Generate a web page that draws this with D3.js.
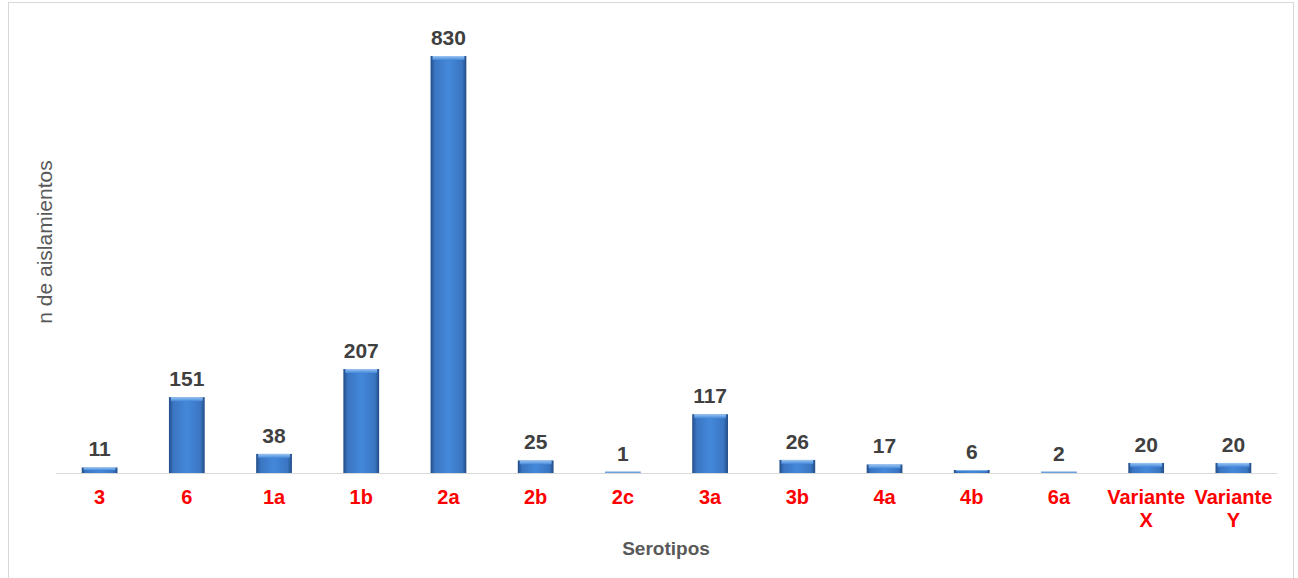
<!DOCTYPE html>
<html>
<head>
<meta charset="utf-8">
<script src="https://cdn.jsdelivr.net/npm/d3@7"></script>
<style>
  body { margin: 0; background: #fff; }
  svg { display: block; font-family: Arial, "Liberation Sans", sans-serif; }
</style>
</head>
<body>
<div id="chart"></div>
<script>
// Serotipos and number of isolates per serotype
const categories = ["3", "6", "1a", "1b", "2a", "2b", "2c", "3a", "3b", "4a", "4b", "6a", "Variante\nX", "Variante\nY"];
const values = [11, 151, 38, 207, 830, 25, 1, 117, 26, 17, 6, 2, 20, 20];

const data = categories.map((c, i) => ({ cat: c, value: values[i] }));

const W = 1298, H = 578;

const svg = d3.select("#chart")
    .append("svg")
    .attr("width", W)
    .attr("height", H);

// gradients for the bevelled bars
const defs = svg.append("defs");
const grad = defs.append("linearGradient")
    .attr("id", "barGrad")
    .attr("x1", "0%").attr("x2", "100%").attr("y1", "0%").attr("y2", "0%");
grad.append("stop").attr("offset", "0%").attr("stop-color", "#224c86");
grad.append("stop").attr("offset", "12%").attr("stop-color", "#3a75c2");
grad.append("stop").attr("offset", "50%").attr("stop-color", "#4488da");
grad.append("stop").attr("offset", "88%").attr("stop-color", "#3a75c2");
grad.append("stop").attr("offset", "100%").attr("stop-color", "#224c86");

const topGrad = defs.append("linearGradient")
    .attr("id", "topGrad")
    .attr("x1", "0%").attr("x2", "0%").attr("y1", "0%").attr("y2", "100%");
topGrad.append("stop").attr("offset", "0%").attr("stop-color", "#9cc6f2");
topGrad.append("stop").attr("offset", "100%").attr("stop-color", "#4488da");

// chart frame
svg.append("rect")
    .attr("x", 8.5).attr("y", 2.5)
    .attr("width", 1285).attr("height", 600)
    .attr("fill", "#fff")
    .attr("stroke", "#d9d9d9");

// scales
const x = d3.scaleBand()
    .domain(categories)
    .range([56, 1277])
    .paddingInner(0.59)
    .paddingOuter(0.295);

const y = d3.scaleLinear()
    .domain([0, 830])
    .range([473, 56]);

// bars
svg.selectAll(".bar")
    .data(data)
    .enter()
    .append("rect")
    .attr("class", "bar")
    .attr("x", d => x(d.cat))
    .attr("y", d => Math.min(y(d.value), 471.5))
    .attr("width", x.bandwidth())
    .attr("height", d => Math.max(1.5, y(0) - y(d.value)))
    .attr("fill", d => d.value < 5 ? "#6a9fe0" : "url(#barGrad)");

// light top bevel
svg.selectAll(".bevel")
    .data(data.filter(d => d.value >= 5))
    .enter()
    .append("rect")
    .attr("class", "bevel")
    .attr("x", d => x(d.cat) + 2)
    .attr("y", d => y(d.value))
    .attr("width", x.bandwidth() - 4)
    .attr("height", d => Math.min(4, (y(0) - y(d.value)) / 2))
    .attr("fill", "url(#topGrad)");

// x axis line
svg.append("line")
    .attr("x1", 56).attr("x2", 1277)
    .attr("y1", 473.5).attr("y2", 473.5)
    .attr("stroke", "#d9d9d9");

// value labels
svg.selectAll(".val")
    .data(data)
    .enter()
    .append("text")
    .attr("class", "val")
    .attr("x", d => x(d.cat) + x.bandwidth() / 2)
    .attr("y", d => y(d.value) - 11)
    .attr("text-anchor", "middle")
    .attr("font-size", 21)
    .attr("font-weight", "bold")
    .attr("fill", "#404040")
    .text(d => d.value);

// category labels
const cat = svg.selectAll(".cat")
    .data(categories)
    .enter()
    .append("text")
    .attr("class", "cat")
    .attr("x", d => x(d) + x.bandwidth() / 2)
    .attr("y", 504)
    .attr("text-anchor", "middle")
    .attr("font-size", 20)
    .attr("font-weight", "bold")
    .attr("fill", "#ff0000");

cat.selectAll("tspan")
    .data(d => d.split("\n").map(t => ({ t, c: d })))
    .enter()
    .append("tspan")
    .attr("x", d => x(d.c) + x.bandwidth() / 2)
    .attr("dy", (d, i) => i === 0 ? 0 : 23)
    .text(d => d.t);

// axis titles
svg.append("text")
    .attr("x", 666)
    .attr("y", 555)
    .attr("text-anchor", "middle")
    .attr("font-size", 19)
    .attr("font-weight", "bold")
    .attr("fill", "#595959")
    .text("Serotipos");

svg.append("text")
    .attr("transform", "translate(52,242) rotate(-90)")
    .attr("text-anchor", "middle")
    .attr("font-size", 21)
    .attr("fill", "#595959")
    .text("n de aislamientos");
</script>
</body>
</html>
